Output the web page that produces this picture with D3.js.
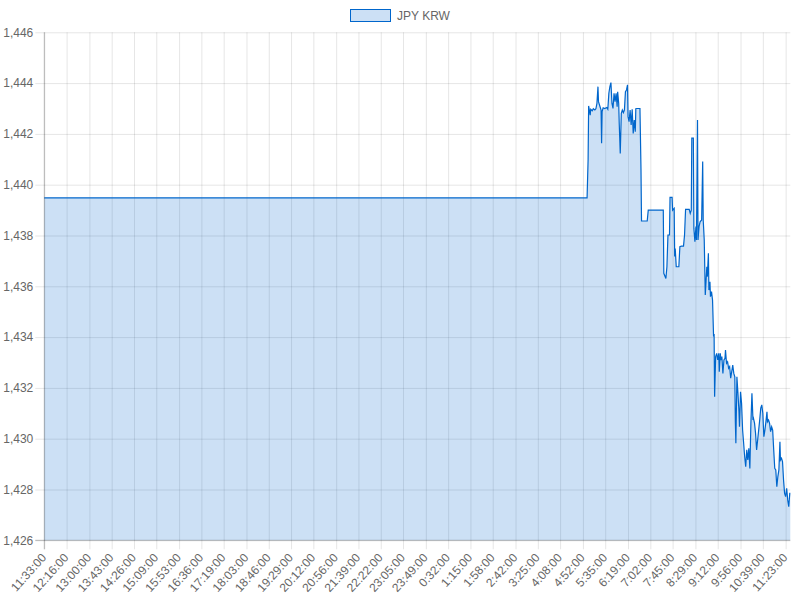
<!DOCTYPE html>
<html>
<head>
<meta charset="utf-8">
<script src="https://cdn.jsdelivr.net/npm/d3@7"></script>
<style>
  body { margin: 0; background: #fff; }
  text { font-family: "Liberation Sans", Arial, Helvetica, sans-serif; }
</style>
</head>
<body>
<div id="viz-container"></div>
<script>
// data: minutes since 11:33 and the JPY KRW rate
let minutes = [0, 1047, 1049, 1050, 1053, 1054, 1057, 1059, 1062, 1064, 1066, 1068, 1069, 1072, 1074, 1075, 1076, 1078, 1081, 1085,
  1087, 1089, 1091, 1093, 1095, 1097, 1099, 1101, 1103, 1105, 1106, 1108, 1109, 1111, 1113, 1115, 1117, 1119, 1121, 1123,
  1125, 1126, 1128, 1130, 1132, 1134, 1136, 1138, 1140, 1141, 1143, 1149, 1151, 1152, 1163, 1165, 1194, 1195, 1199, 1201,
  1203, 1206, 1207, 1211, 1212, 1215, 1216, 1217, 1219, 1224, 1226, 1229, 1233, 1235, 1237, 1244, 1246, 1248, 1249, 1252,
  1253, 1255, 1257, 1258, 1260, 1261, 1263, 1265, 1268, 1270, 1271, 1273, 1275, 1278, 1279, 1281, 1282, 1284, 1285, 1287,
  1289, 1291, 1292, 1293, 1295, 1297, 1299, 1301, 1302, 1304, 1305, 1307, 1309, 1311, 1313, 1314, 1316, 1318, 1320, 1322,
  1324, 1326, 1328, 1330, 1332, 1333, 1334, 1336, 1338, 1340, 1341, 1343, 1345, 1347, 1349, 1351, 1353, 1355, 1357, 1359,
  1361, 1363, 1365, 1367, 1368, 1370, 1372, 1374, 1376, 1378, 1380, 1382, 1384, 1386, 1388, 1390, 1392, 1394, 1395, 1397,
  1399, 1401, 1403, 1405, 1407, 1409, 1411, 1413, 1415, 1417, 1419, 1420, 1422, 1424, 1426, 1428, 1430, 1432, 1434, 1436,
  1438, 1439];

let rates = [1439.48, 1439.48, 1441.0, 1443.1, 1442.74, 1442.97, 1442.91, 1442.99, 1442.94, 1442.99, 1443.2, 1443.86, 1443.27, 1443.07, 1442.94, 1441.63, 1442.88, 1443.03, 1443.0, 1443.04,
  1442.97, 1443.6, 1443.86, 1444.02, 1443.2, 1443.0, 1443.6, 1443.27, 1443.6, 1443.07, 1443.66, 1443.2, 1442.42, 1441.23, 1442.81, 1442.94, 1442.84, 1442.94, 1443.66, 1443.73,
  1443.93, 1442.68, 1442.48, 1442.94, 1442.35, 1442.97, 1442.02, 1442.55, 1442.09, 1442.99, 1443.0, 1443.0, 1440.58, 1438.57, 1438.57, 1439.0, 1439.0, 1436.51, 1436.31, 1436.77,
  1438.02, 1438.02, 1439.5, 1439.5, 1439.0, 1439.07, 1437.17, 1437.49, 1436.77, 1436.77, 1437.56, 1437.58, 1437.58, 1438.02, 1439.03, 1439.03, 1438.87, 1439.0, 1441.83, 1441.83,
  1438.28, 1437.76, 1438.35, 1437.82, 1442.55, 1437.82, 1438.35, 1438.54, 1438.61, 1440.91, 1438.61, 1437.82, 1435.66, 1436.77, 1436.38, 1437.3, 1435.85, 1436.18, 1435.59, 1435.79,
  1435.46, 1434.02, 1434.12, 1431.65, 1433.23, 1433.36, 1433.1, 1433.36, 1432.64, 1433.36, 1433.1, 1433.23, 1432.57, 1433.1, 1433.16, 1433.49, 1432.97, 1433.03, 1432.77, 1432.84,
  1432.38, 1432.64, 1432.9, 1432.57, 1432.44, 1430.67, 1429.82, 1432.44, 1431.79, 1431.06, 1430.47, 1431.85, 1431.39, 1430.34, 1429.82, 1429.29, 1428.9, 1429.56, 1429.16, 1429.62,
  1428.83, 1430.61, 1431.79, 1430.74, 1430.8, 1430.61, 1430.21, 1429.56, 1429.95, 1430.34, 1430.74, 1431.2, 1431.33, 1431.0, 1430.08, 1430.34, 1430.67, 1431.06, 1430.67, 1430.74,
  1430.61, 1430.28, 1430.47, 1430.34, 1429.56, 1428.83, 1428.77, 1428.11, 1428.51, 1428.77, 1429.88, 1429.16, 1429.23, 1429.1, 1428.37, 1427.85, 1427.72, 1428.05, 1427.59, 1427.32,
  1427.85, 1427.85];

// x tick labels (time of day)
let tickLabels = ["11:33:00", "12:16:00", "13:00:00", "13:43:00", "14:26:00", "15:09:00", "15:53:00", "16:36:00", "17:19:00",
  "18:03:00", "18:46:00", "19:29:00", "20:12:00", "20:56:00", "21:39:00", "22:22:00", "23:05:00", "23:49:00", "0:32:00",
  "1:15:00", "1:58:00", "2:42:00", "3:25:00", "4:08:00", "4:52:00", "5:35:00", "6:19:00", "7:02:00", "7:45:00", "8:29:00",
  "9:12:00", "9:56:00", "10:39:00", "11:23:00"];

let yTicks = [1426, 1428, 1430, 1432, 1434, 1436, 1438, 1440, 1442, 1444, 1446];

let seriesName = "JPY KRW";

// minutes after 11:33 for a "h:mm:ss" label
function labelMinute(s) {
  let p = s.split(":");
  let m = (+p[0]) * 60 + (+p[1]) - (11 * 60 + 33);
  return (m + 1440) % 1440;
}

let data = minutes.map((m, i) => ({ m: m, v: rates[i] }));

let plotLeft = 44.3, plotRight = 790.3, plotTop = 32.3, plotBottom = 540.3;

let viz = d3.select("#viz-container")
  .append("svg")
    .attr("width", 800)
    .attr("height", 600)
;

let x = d3.scaleLinear()
  .domain([0, 1439])
  .range([plotLeft, plotRight])
;

let y = d3.scaleLinear()
  .domain([1426, 1446])
  .range([plotBottom, plotTop])
;

// horizontal grid lines + y labels
let yAxis = viz.append("g")
  .attr("transform", "translate(" + plotLeft + ",0)")
  .call(d3.axisLeft(y)
    .tickValues(yTicks)
    .tickSize(-(plotRight - plotLeft))
    .tickFormat(d3.format(","))
    .tickPadding(11))
;
yAxis.select(".domain").remove();
yAxis.selectAll(".tick line")
  .attr("stroke", "rgba(0,0,0,0.1)")
  .attr("x2", plotRight - plotLeft)
  .attr("x1", -9)
;
yAxis.selectAll(".tick text")
  .attr("fill", "#666")
  .style("font-size", "12px")
;

// vertical grid lines + rotated time labels
let xAxis = viz.append("g")
  .attr("transform", "translate(0," + plotBottom + ")")
  .call(d3.axisBottom(x)
    .tickValues(tickLabels.map(labelMinute))
    .tickSize(-(plotBottom - plotTop))
    .tickFormat((d, i) => tickLabels[i]))
;
xAxis.select(".domain").remove();
xAxis.selectAll(".tick line")
  .attr("stroke", "rgba(0,0,0,0.1)")
  .attr("y1", 9)
;
xAxis.selectAll(".tick text")
  .attr("fill", "#666")
  .style("font-size", "12px")
  .attr("text-anchor", "end")
  .attr("dy", "0.35em")
  .attr("transform", "translate(-1,15) rotate(-48)")
  .attr("y", 0)
  .attr("x", 0)
;

// the area + line
let area = d3.area()
  .x(d => x(d.m))
  .y0(plotBottom)
  .y1(d => y(d.v))
;

let line = d3.line()
  .x(d => x(d.m))
  .y(d => y(d.v))
;

viz.append("path")
  .datum(data)
  .attr("d", area)
  .attr("fill", "rgba(0,102,204,0.2)")
;

viz.append("path")
  .datum(data)
  .attr("d", line)
  .attr("fill", "none")
  .attr("stroke", "#0066cc")
  .attr("stroke-width", 1.2)
;

// axis lines
viz.append("line")
  .attr("x1", plotLeft).attr("x2", plotLeft)
  .attr("y1", plotTop).attr("y2", plotBottom + 9)
  .attr("stroke", "rgba(0,0,0,0.25)")
;
viz.append("line")
  .attr("x1", plotLeft - 9).attr("x2", plotRight)
  .attr("y1", plotBottom).attr("y2", plotBottom)
  .attr("stroke", "rgba(0,0,0,0.25)")
;

// legend
viz.append("rect")
  .attr("x", 350.5)
  .attr("y", 9.5)
  .attr("width", 40)
  .attr("height", 12)
  .attr("fill", "rgba(0,102,204,0.2)")
  .attr("stroke", "#0066cc")
  .attr("stroke-width", 1)
;
viz.append("text")
  .attr("x", 397)
  .attr("y", 16)
  .attr("dy", "0.35em")
  .attr("fill", "#666")
  .style("font-size", "12px")
  .text(seriesName)
;
</script>
</body>
</html>
